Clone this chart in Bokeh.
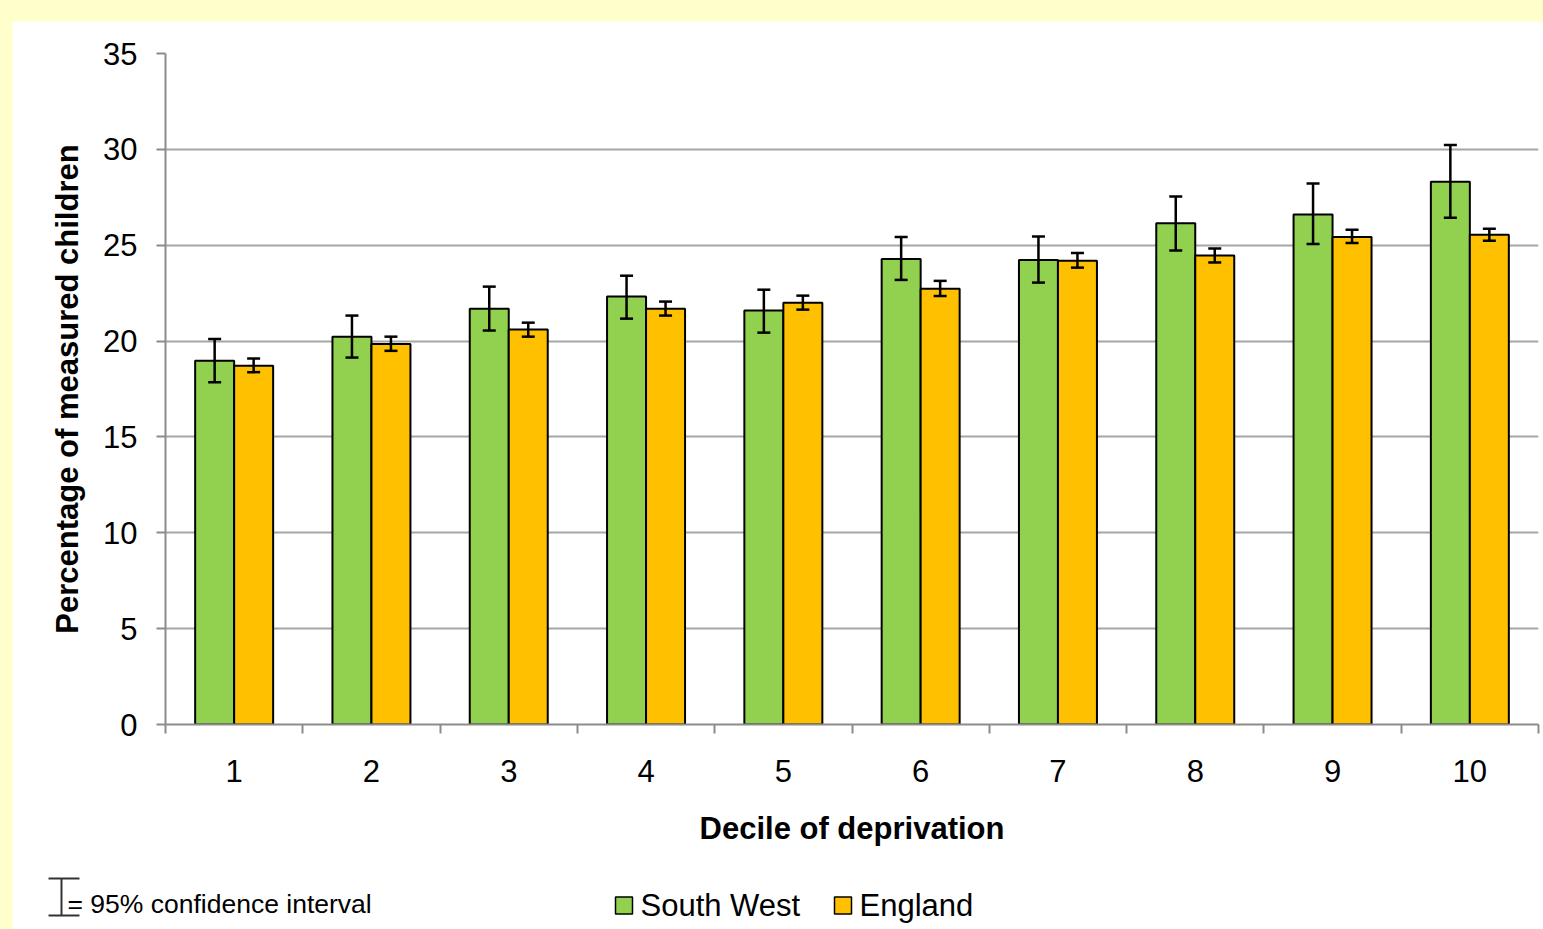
import numpy as np
from bokeh.plotting import figure
from bokeh.models import ColumnDataSource, Range1d, FixedTicker, Whisker, TeeHead, Spacer
from bokeh.core.properties import value
from bokeh.layouts import column, row
from bokeh.embed import file_html
from bokeh.resources import INLINE

# ---------------- data ----------------
deciles = [1, 2, 3, 4, 5, 6, 7, 8, 9, 10]
series_names = ["South West", "England"]
south_west = [18.97, 20.22, 21.69, 22.32, 21.59, 24.28, 24.23, 26.14, 26.60, 28.31]
south_west_lower = [17.85, 19.14, 20.55, 21.17, 20.44, 23.19, 23.05, 24.73, 25.06, 26.43]
south_west_upper = [20.11, 21.33, 22.84, 23.41, 22.68, 25.43, 25.46, 27.54, 28.22, 30.23]
england = [18.71, 19.85, 20.60, 21.69, 22.00, 22.73, 24.19, 24.47, 25.43, 25.55]
england_lower = [18.38, 19.49, 20.23, 21.33, 21.64, 22.35, 23.83, 24.10, 25.11, 25.23]
england_upper = [19.09, 20.23, 20.96, 22.06, 22.37, 23.14, 24.59, 24.83, 25.81, 25.86]
y_ticks = [0, 5, 10, 15, 20, 25, 30, 35]
x_title = "Decile of deprivation"
y_title = "Percentage of measured children"
ci_note = "= 95% confidence interval"

# ---------------- styling ----------------
FONT = "Liberation Sans"
GREEN = "#92D050"
ORANGE = "#FFC000"
GRID = "#A6A6A6"
AXIS = "#8C8C8C"
BG = "#FFFFCC"

OX, OY = 12, 21            # figure offset on page
W, H = 1531, 908
ML, MR, MT, MB = 153, 5, 32, 205
BAR_W = 0.284
OFF = BAR_W / 2

dec = np.array(deciles, dtype=float)
src_sw = ColumnDataSource(dict(x=dec - OFF, top=south_west, lo=south_west_lower, hi=south_west_upper))
src_en = ColumnDataSource(dict(x=dec + OFF, top=england, lo=england_lower, hi=england_upper))

p = figure(width=W, height=H, output_backend="svg", toolbar_location=None,
           x_range=Range1d(0.5, len(deciles) + 0.5), y_range=Range1d(y_ticks[0], y_ticks[-1]),
           min_border_left=ML, min_border_right=MR, min_border_top=MT, min_border_bottom=MB)
p.outline_line_color = None
p.background_fill_color = "white"
p.border_fill_color = "white"

r_sw = p.vbar(x="x", top="top", bottom=0, width=BAR_W, source=src_sw,
              fill_color=GREEN, line_color="black", line_width=2)
r_en = p.vbar(x="x", top="top", bottom=0, width=BAR_W, source=src_en,
              fill_color=ORANGE, line_color="black", line_width=2)

for src in (src_sw, src_en):
    w = Whisker(base="x", lower="lo", upper="hi", source=src, level="annotation",
                line_color="black", line_width=2.5,
                upper_head=TeeHead(size=13, line_color="black", line_width=2.5),
                lower_head=TeeHead(size=13, line_color="black", line_width=2.5))
    p.add_layout(w)

# axes
xa = p.xaxis[0]
xa.ticker = FixedTicker(ticks=deciles, minor_ticks=list(np.arange(0.5, len(deciles) + 1, 1.0)))
xa.major_tick_out = 0
xa.major_tick_in = 0
xa.minor_tick_out = 9
xa.minor_tick_in = 0
xa.minor_tick_line_color = AXIS
xa.minor_tick_line_width = 2
xa.axis_line_color = AXIS
xa.axis_line_width = 2
xa.major_label_text_font = FONT
xa.major_label_text_font_size = "31px"
xa.major_label_text_color = "black"
xa.major_label_standoff = 26
xa.axis_label = x_title
xa.axis_label_text_font = FONT
xa.axis_label_text_font_size = "31px"
xa.axis_label_text_font_style = "bold"
xa.axis_label_text_color = "black"
xa.axis_label_standoff = 26

ya = p.yaxis[0]
ya.ticker = FixedTicker(ticks=y_ticks)
ya.minor_tick_line_color = None
ya.major_tick_out = 9
ya.major_tick_in = 0
ya.major_tick_line_color = AXIS
ya.major_tick_line_width = 2
ya.axis_line_color = AXIS
ya.axis_line_width = 2
ya.major_label_text_font = FONT
ya.major_label_text_font_size = "31px"
ya.major_label_text_color = "black"
ya.major_label_standoff = 19
ya.axis_label = y_title
ya.axis_label_text_font = FONT
ya.axis_label_text_font_size = "31px"
ya.axis_label_text_font_style = "bold"
ya.axis_label_text_color = "black"
ya.axis_label_standoff = 15

p.xgrid.visible = False
p.ygrid.grid_line_color = GRID
p.ygrid.grid_line_width = 2

# ---- helpers: page pixel -> data coordinates (for key/legend outside the frame)
frame_w = W - ML - MR
frame_h = H - MT - MB
def px_x(px):
    return 0.5 + (px - (OX + ML)) / frame_w * len(deciles)
def px_y(py):
    return y_ticks[-1] * (OY + MT + frame_h - py) / frame_h

# legend (drawn unclipped at overlay level)
p.quad(left=[px_x(615), px_x(834)], right=[px_x(632), px_x(851)],
       top=[px_y(896.5)] * 2, bottom=[px_y(913.5)] * 2,
       fill_color=[GREEN, ORANGE], line_color="black", line_width=1.5, level="overlay")
p.text(x=[px_x(640), px_x(859)], y=[px_y(905)] * 2, text=series_names,
       text_font=value(FONT), text_font_size="31px", text_color="black",
       text_baseline="middle", text_align="left", level="overlay")

# confidence-interval key
p.segment(x0=[px_x(61), px_x(48), px_x(48)], y0=[px_y(878), px_y(878), px_y(915)],
          x1=[px_x(61), px_x(79), px_x(79)], y1=[px_y(915), px_y(878), px_y(915)],
          line_color="#333333", line_width=2, level="overlay")
p.text(x=[px_x(67)], y=[px_y(903)], text=[ci_note],
       text_font=value(FONT), text_font_size="26.5px", text_color="black",
       text_baseline="middle", text_align="left", level="overlay")

layout = column(Spacer(height=OY), row(Spacer(width=OX), p), spacing=0)

html = file_html(layout, INLINE, title="chart")
html = html.replace("</head>",
                    "<style>html,body{margin:0;padding:0;background:%s;overflow:hidden}</style></head>" % BG, 1)
open("out.html", "w").write(html)
